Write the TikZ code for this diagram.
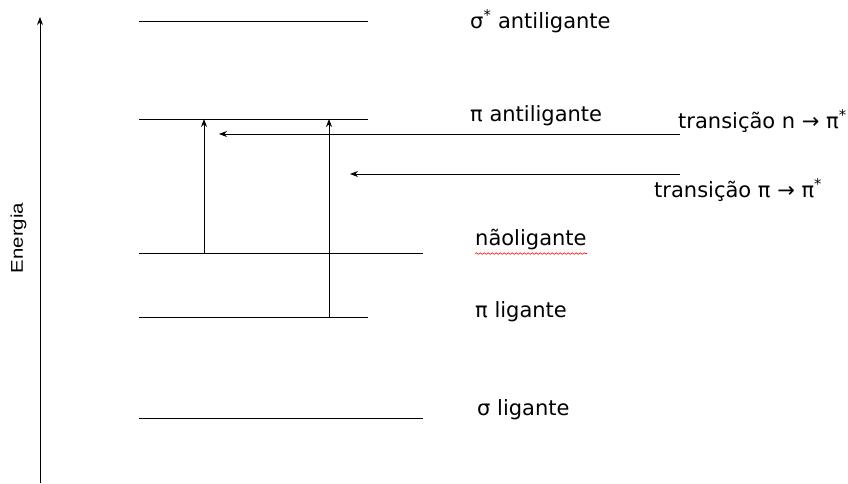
\documentclass[tikz,border=0pt]{standalone}
\usepackage{fontspec}
\setmainfont{DejaVu Sans}
\newfontfamily\axisfont{Liberation Sans}
\usetikzlibrary{arrows.meta,decorations.pathmorphing}
\begin{document}
\begin{tikzpicture}[x=1pt,y=-1pt,
  level/.style={line width=0.85pt},
  trans/.style={line width=0.85pt,-{Stealth[length=8pt,width=6pt]}},
  lbl/.style={anchor=west,inner sep=0pt,font=\fontsize{21}{24}\selectfont},
]
\useasboundingbox (0,0) rectangle (848,484);
% energy axis
\coordinate (ebot) at (40,483);
\coordinate (etop) at (40,17);
\draw[line width=0.85pt,-{Stealth[length=8pt,width=6pt]}] (ebot) -- (etop);
\node[rotate=90,inner sep=0pt,font=\axisfont\fontsize{17}{20}\selectfont] (energia) at (18.5,238) {\scalebox{1.2}[1]{Energia}};
% energy levels
\coordinate (s1a) at (139,21);  \coordinate (s1b) at (368,21);
\coordinate (p1a) at (139,119); \coordinate (p1b) at (368,119);
\coordinate (na)  at (139,253); \coordinate (nb)  at (423,253);
\coordinate (p0a) at (139,317); \coordinate (p0b) at (368,317);
\coordinate (s0a) at (139,418); \coordinate (s0b) at (423,418);
\draw[level] (s1a) -- (s1b);
\draw[level] (p1a) -- (p1b);
\draw[level] (na) -- (nb);
\draw[level] (p0a) -- (p0b);
\draw[level] (s0a) -- (s0b);
% level labels
\node[lbl] (ls1) at (470,21) {σ\textsuperscript{*} antiligante};
\node[lbl] (lp1) at (470,116) {π antiligante};
\node[lbl] (ln)  at (475,240) {nãoligante};
\node[lbl] (lp0) at (475,312) {π ligante};
\node[lbl] (ls0) at (477,410) {σ ligante};
% spelling underline
\draw[red,line width=0.6pt,decorate,decoration={snake,amplitude=0.8pt,segment length=4pt}]
  ([yshift=-3pt]ln.south west) -- ([yshift=-3pt]ln.south east);
% transitions
\coordinate (t1a) at (204,253); \coordinate (t1b) at (204,119);
\coordinate (t2a) at (329,317); \coordinate (t2b) at (329,119);
\draw[trans] (t1a) -- (t1b);
\draw[trans] (t2a) -- (t2b);
\coordinate (h1a) at (680,134); \coordinate (h1b) at (219,134);
\coordinate (h2a) at (680,174); \coordinate (h2b) at (350,174);
\draw[trans] (h1a) -- (h1b);
\draw[trans] (h2a) -- (h2b);
\node[lbl] (tn) at (678,121) {transição n → π\textsuperscript{*}};
\node[lbl] (tp) at (654,190) {transição π → π\textsuperscript{*}};
\end{tikzpicture}
\end{document}
